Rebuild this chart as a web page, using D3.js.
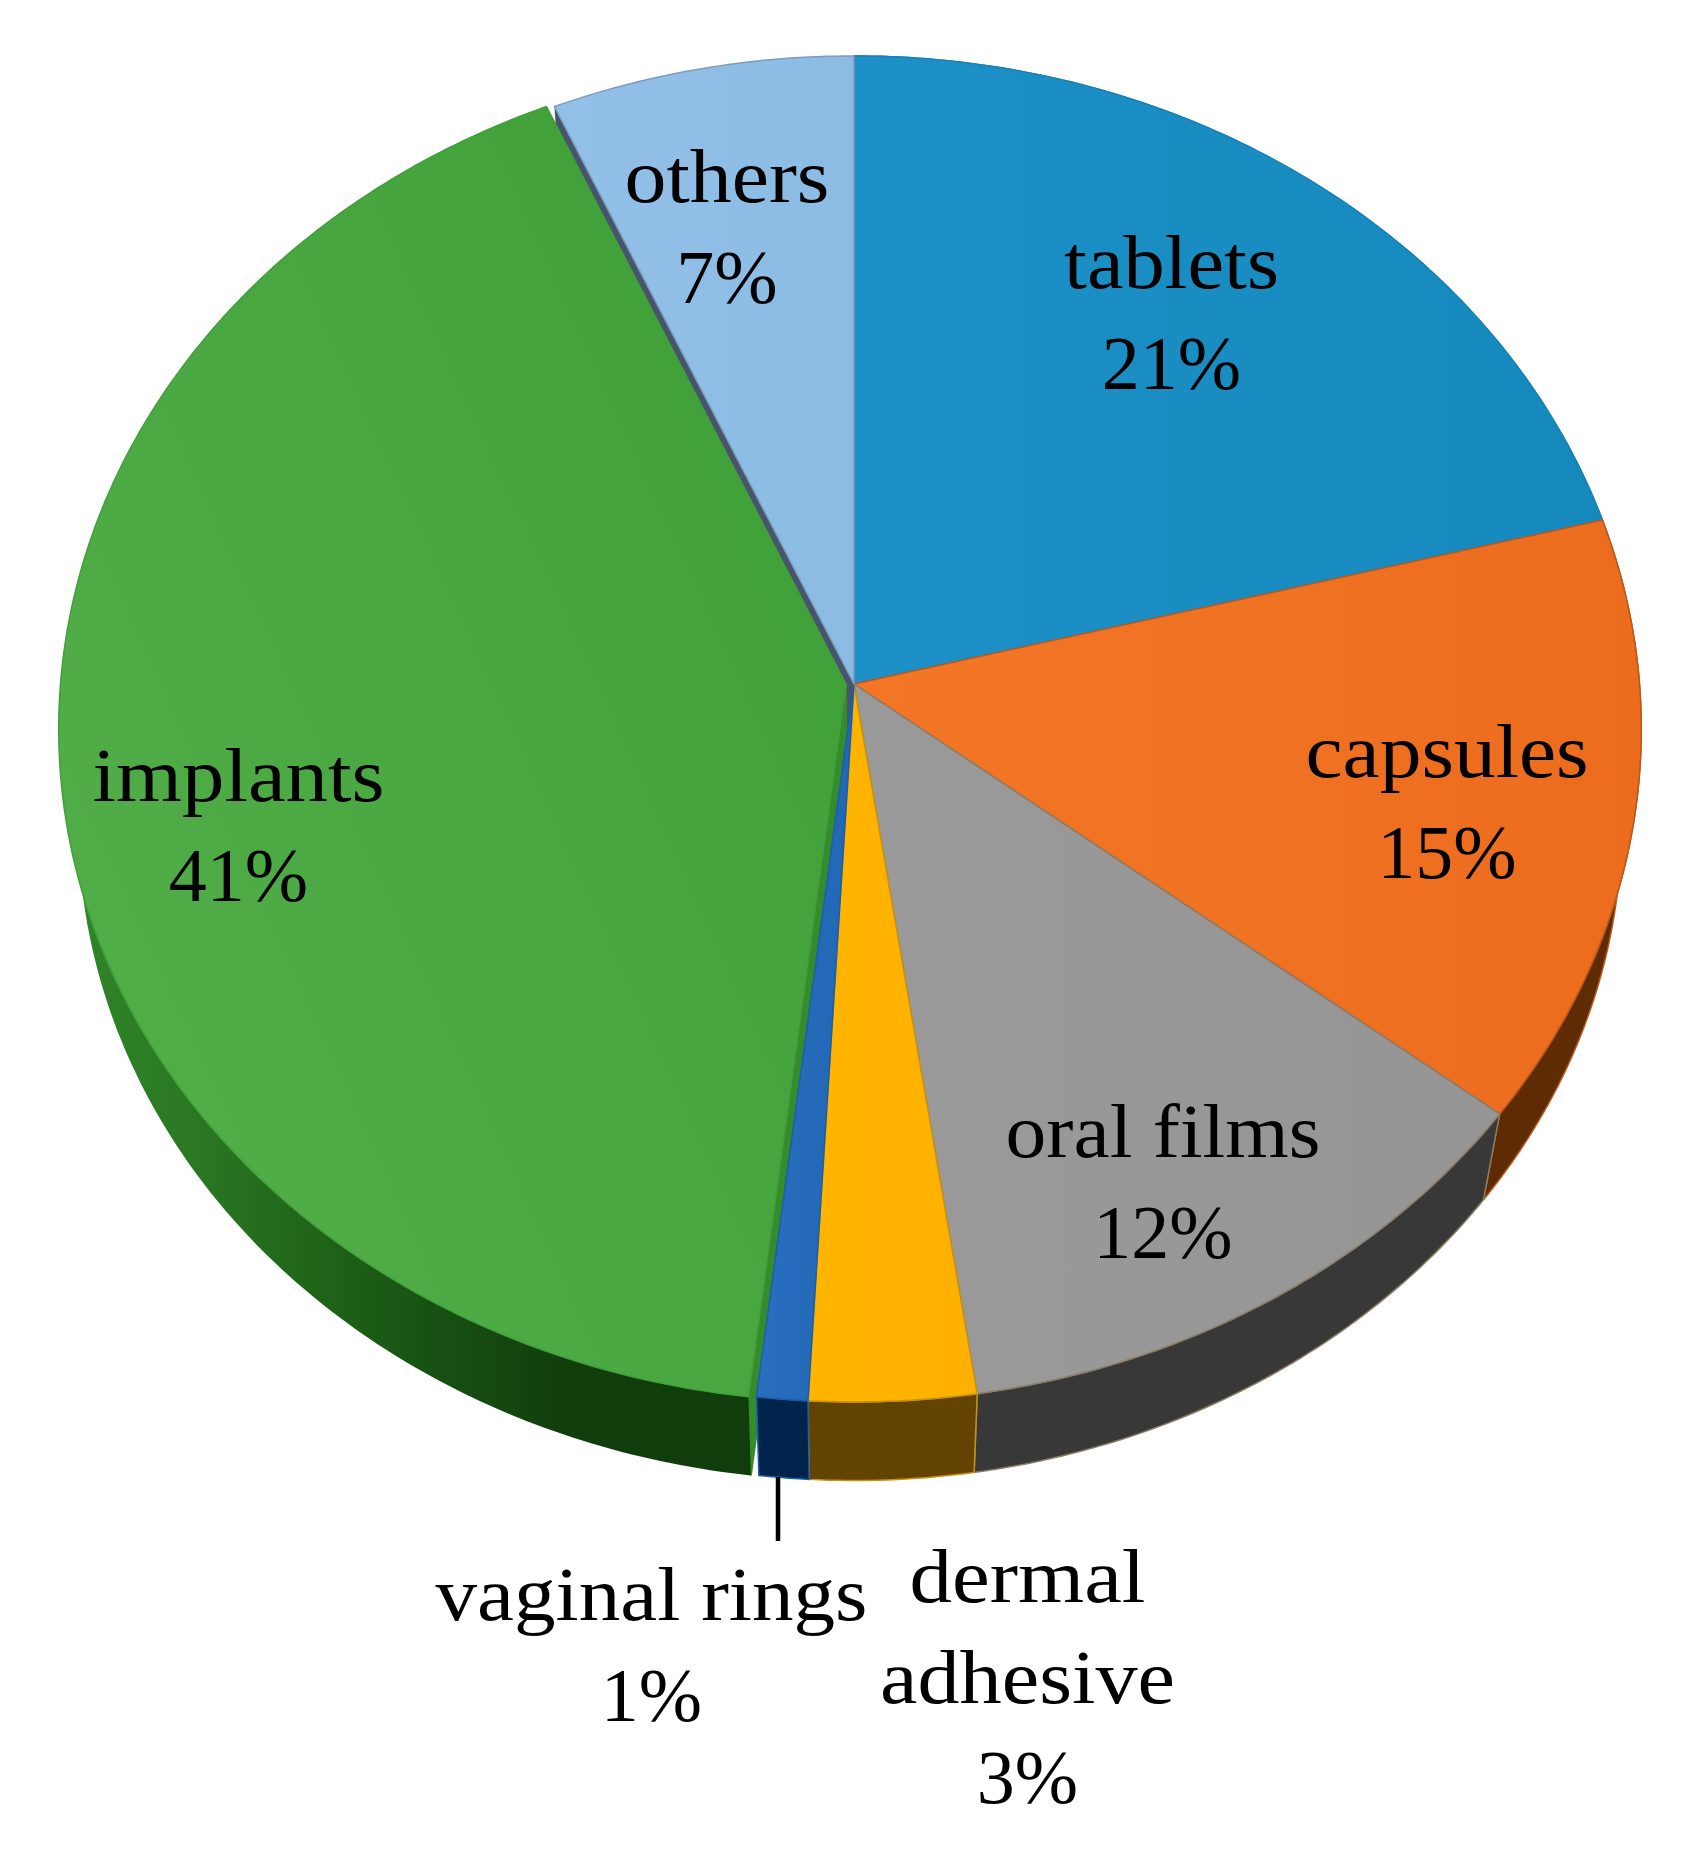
<!DOCTYPE html>
<html>
<head>
<meta charset="utf-8">
<script src="https://cdn.jsdelivr.net/npm/d3@7"></script>
<style>
html, body { margin: 0; background: #fff; }
svg { display: block; }
text { font-family: "Liberation Serif", serif; fill: #000; text-anchor: middle; }
</style>
</head>
<body>
<svg id="chart"></svg>
<script>
const svgWidth = 1694;
const svgHeight = 1865;

// Data, clockwise from twelve o'clock
const categories = ["tablets", "capsules", "oral films", "dermal adhesive", "vaginal rings", "implants", "others"];
const shares = [21, 14.55, 12.11, 3.21, 0.98, 41.52, 6.63];
const percentLabels = ["21%", "15%", "12%", "3%", "1%", "41%", "7%"];
const wordLines = [["tablets"], ["capsules"], ["oral films"], ["dermal", "adhesive"], ["vaginal rings"], ["implants"], ["others"]];

// Colours
const faceFrom = ["#1d90c8", "#f37727", "#9a9a9a", "#ffb500", "#2a6fc0", "#50ad48", "#93c0e9"];
const faceTo = ["#1588bc", "#ec6c1e", "#959595", "#ffb000", "#2067b4", "#3f9f37", "#8bbbe3"];
const sideColor = ["#0f4f70", "#5e2b02", "#383838", "#634300", "#00244b", "#113c0b", "#44607c"];
const edgeColor = ["#1782b5", "#b9581c", "#8a7c68", "#c69310", "#1c5ea8", "#42a03a", "#7d9cbc"];
const implantSideStops = ["#2f8428", "#2a7722", "#1f6319", "#175012", "#113f0c", "#113c0b"];

// Perspective of the pie disc
const cx = 854;
const cy = 684;
const radiusX = 785.5;
const radiusY = 670;
const tilt = 0.0668;
const depth = 96.5;
const shrink = 0.975;
const implantShift = -8;

const svg = d3.select("#chart").attr("width", svgWidth).attr("height", svgHeight);
const defs = svg.append("defs");

const faceColor = i => d3.scaleLinear().domain([0, 1]).range([faceFrom[i], faceTo[i]]);

function topPoint(angle, shift) {
    const u = Math.sin(angle);
    const v = -Math.cos(angle);
    const d = 1 - tilt * v;
    return [cx + radiusX * u / d + shift, cy + radiusY * v / d];
}

function bottomPoint(p, shift) {
    return [cx + shrink * (p[0] - shift - cx) + shift, cy + shrink * (p[1] - cy) + depth];
}

const arcs = d3.pie().sort(null).value(d => d)(shares);
const path = d3.line();

function arcPoints(d) {
    const n = Math.max(4, Math.ceil((d.endAngle - d.startAngle) * 80));
    return d3.range(n + 1).map(j => d.startAngle + (d.endAngle - d.startAngle) * j / n);
}

// Gradients
arcs.forEach((d, i) => {
    const g = defs.append("linearGradient")
        .attr("id", "face" + i)
        .attr("x1", i === 5 ? 0.2 : 0).attr("y1", i === 5 ? 0.8 : 0)
        .attr("x2", 1).attr("y2", i === 5 ? 0.2 : 0);
    g.append("stop").attr("offset", 0).attr("stop-color", faceColor(i)(0));
    g.append("stop").attr("offset", 1).attr("stop-color", faceColor(i)(1));
});

const implantSide = defs.append("linearGradient")
    .attr("id", "implantSide")
    .attr("gradientUnits", "userSpaceOnUse")
    .attr("x1", 80).attr("x2", 750).attr("y1", 0).attr("y2", 0);
const stopScale = d3.scaleLinear().domain([0, implantSideStops.length - 1]).range([0, 0.9]);
implantSideStops.forEach((c, j) => {
    implantSide.append("stop").attr("offset", stopScale(j)).attr("stop-color", c);
});

const shiftOf = i => categories[i] === "implants" ? implantShift : 0;

// Walls of the two pulled apart slices
const othersIndex = categories.indexOf("others");
const implantsIndex = categories.indexOf("implants");
const apex = [cx, cy];

function wall(angle, shift) {
    const a = [apex[0] + shift, apex[1]];
    const o = topPoint(angle, shift);
    return [a, o, bottomPoint(o, shift), bottomPoint(a, shift)];
}

svg.append("path")
    .attr("d", path(wall(arcs[othersIndex].startAngle, 0)) + "Z")
    .attr("fill", "#46546c");

svg.append("path")
    .attr("d", path(wall(arcs[implantsIndex].startAngle, implantShift)) + "Z")
    .attr("fill", "#358c2d")
    .attr("stroke", "#358c2d")
    .attr("stroke-width", 2);

// Outer side of each slice
svg.append("g").selectAll("path")
    .data(arcs)
    .enter().append("path")
    .attr("d", (d, i) => {
        const s = shiftOf(i);
        const upper = arcPoints(d).map(a => topPoint(a, s));
        const lower = upper.map(p => bottomPoint(p, s)).reverse();
        return path(upper.concat(lower)) + "Z";
    })
    .attr("fill", (d, i) => i === implantsIndex ? "url(#implantSide)" : sideColor[i])
    .attr("stroke", (d, i) => i === implantsIndex ? "none" : edgeColor[i])
    .attr("stroke-width", 1.5)
    .attr("display", (d, i) => i === othersIndex ? "none" : null);

// Top faces
svg.append("g").selectAll("path")
    .data(arcs)
    .enter().append("path")
    .attr("d", (d, i) => {
        const s = shiftOf(i);
        return path([[cx + s, cy]].concat(arcPoints(d).map(a => topPoint(a, s)))) + "Z";
    })
    .attr("fill", (d, i) => `url(#face${i})`)
    .attr("stroke", (d, i) => edgeColor[i])
    .attr("stroke-width", 1.5)
    .attr("stroke-linejoin", "round");

// Leader for the small slice
svg.append("line")
    .attr("x1", 778).attr("x2", 778)
    .attr("y1", 1477).attr("y2", 1541)
    .attr("stroke", "#000")
    .attr("stroke-width", 4.5);

// Labels: centre x, baselines and word widths as measured on the picture
const labelX = [1171.5, 1447, 1163, 1027.5, 651.5, 238.5, 727];
const labelY = [288, 777, 1157, 1602, 1620, 800.5, 202];
const wordWidths = [[215], [283], [315], [236, 295], [432], [292], [205]];
const lineGap = 100.5;
const fontSize = 76;

const labels = svg.append("g").attr("font-size", fontSize);
wordLines.forEach((lines, i) => {
    lines.forEach((word, j) => {
        labels.append("text")
            .attr("x", labelX[i])
            .attr("y", labelY[i] + j * lineGap)
            .attr("textLength", wordWidths[i][j])
            .attr("lengthAdjust", "spacingAndGlyphs")
            .text(word);
    });
    labels.append("text")
        .attr("x", labelX[i])
        .attr("y", labelY[i] + lines.length * lineGap)
        .text(percentLabels[i]);
});
</script>
</body>
</html>
